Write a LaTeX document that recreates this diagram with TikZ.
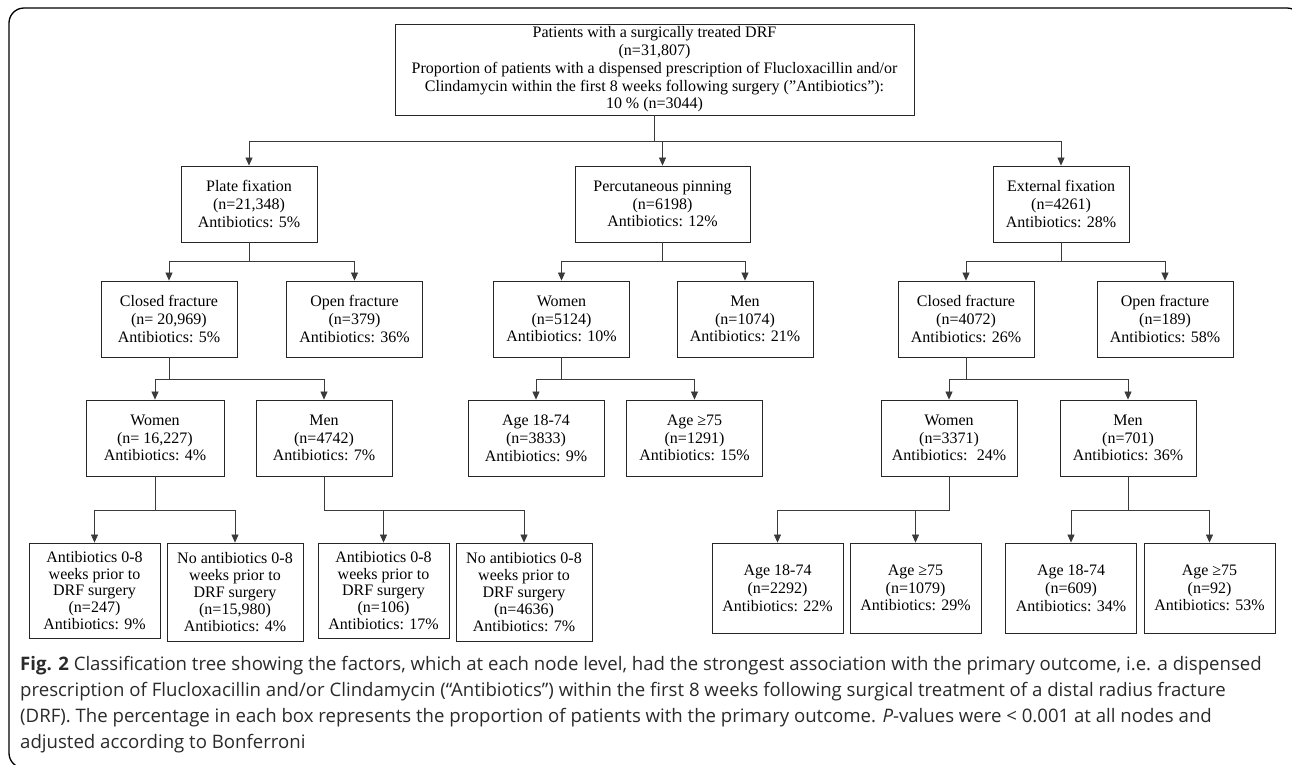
\documentclass[tikz,border=0pt]{standalone}
\usepackage{fontspec}
\setmainfont{Liberation Serif}
\newfontfamily\capfont{Open Sans}
\usetikzlibrary{arrows.meta}

\definecolor{linegray}{HTML}{3A3A3A}
\definecolor{capgray}{HTML}{2A2A2A}

\begin{document}
\begin{tikzpicture}[x=1pt, y=-1pt,
    tbox/.style={rectangle, draw=black!85, line width=0.85pt, align=center, inner sep=0pt,
        minimum width=136pt, minimum height=76pt, font=\fontsize{16}{17.8}\selectfont},
    leaf/.style={tbox, minimum width=131pt, minimum height=95pt, font=\fontsize{16}{16.8}\selectfont},
    rleaf/.style={leaf, minimum height=90pt, font=\fontsize{16}{17.8}\selectfont},
    link/.style={draw=linegray, line width=0.75pt, -{Triangle[length=8pt,width=7pt]}}]
    \useasboundingbox (0,0) rectangle (1292,764);

    % outer frame
    \begin{scope}
        \clip (0,0) rectangle (1292,764);
        \draw[line width=1.3pt, rounded corners=15pt] (9,8) rectangle (1302,768);
    \end{scope}

    % root
    \node[tbox, minimum width=519pt, minimum height=91pt] (root) at (654.5,69.5) {Patients with a surgically treated DRF\\(n=31,807)\\Proportion of patients with a dispensed prescription of Flucloxacillin and/or\\Clindamycin within the first 8 weeks following surgery (”Antibiotics”):\\10 \% (n=3044)};

    % level 1
    \node[tbox] (plate) at (249,204) {Plate fixation\\(n=21,348)\\Antibiotics: 5\%};
    \node[tbox, minimum width=175pt] (perc) at (662.5,204) {Percutaneous pinning\\(n=6198)\\Antibiotics: 12\%};
    \node[tbox] (ext) at (1061,204) {External fixation\\(n=4261)\\Antibiotics: 28\%};

    % level 2
    \node[tbox] (pclosed) at (169,319) {Closed fracture\\(n= 20,969)\\Antibiotics: 5\%};
    \node[tbox] (popen) at (354.5,319) {Open fracture\\(n=379)\\Antibiotics: 36\%};
    \node[tbox] (cwomen) at (561.5,319) {Women\\(n=5124)\\Antibiotics: 10\%};
    \node[tbox] (cmen) at (745,319) {Men\\(n=1074)\\Antibiotics: 21\%};
    \node[tbox] (eclosed) at (966,319) {Closed fracture\\(n=4072)\\Antibiotics: 26\%};
    \node[tbox] (eopen) at (1165,319) {Open fracture\\(n=189)\\Antibiotics: 58\%};

    % level 3
    \node[tbox, minimum width=138pt] (pwomen) at (155,438) {Women\\(n= 16,227)\\Antibiotics: 4\%};
    \node[tbox] (pmen) at (324,438) {Men\\(n=4742)\\Antibiotics: 7\%};
    \node[tbox] (cyoung) at (536,438) {Age 18-74\\(n=3833)\\Antibiotics: 9\%};
    \node[tbox] (cold) at (694.5,438) {Age ≥75\\(n=1291)\\Antibiotics: 15\%};
    \node[tbox] (ewomen) at (949,438) {Women\\(n=3371)\\Antibiotics:~ 24\%};
    \node[tbox] (emen) at (1128,438) {Men\\(n=701)\\Antibiotics: 36\%};

    % level 4
    \node[leaf] (pwab) at (94.5,590.5) {Antibiotics 0-8\\weeks prior to\\DRF surgery\\(n=247)\\Antibiotics: 9\%};
    \node[leaf, minimum width=136pt, minimum height=98pt] (pwno) at (235,592) {No antibiotics 0-8\\weeks prior to\\DRF surgery\\(n=15,980)\\Antibiotics: 4\%};
    \node[leaf] (pmab) at (383.5,590.5) {Antibiotics 0-8\\weeks prior to\\DRF surgery\\(n=106)\\Antibiotics: 17\%};
    \node[leaf, minimum width=136pt, minimum height=98pt] (pmno) at (524,592) {No antibiotics 0-8\\weeks prior to\\DRF surgery\\(n=4636)\\Antibiotics: 7\%};
    \node[rleaf] (ewyoung) at (777.5,588) {Age 18-74\\(n=2292)\\Antibiotics: 22\%};
    \node[rleaf] (ewold) at (915.5,588) {Age ≥75\\(n=1079)\\Antibiotics: 29\%};
    \node[rleaf] (emyoung) at (1071,588) {Age 18-74\\(n=609)\\Antibiotics: 34\%};
    \node[rleaf] (emold) at (1209.5,588) {Age ≥75\\(n=92)\\Antibiotics: 53\%};

    % connectors
    \foreach \kid in {plate, perc, ext}
        \draw[link] (root.south) -- ++(0,26) -| (\kid.north);
    \draw[link] (plate.south) -- ++(0,19) -| (pclosed.north);
    \draw[link] (plate.south) -- ++(0,19) -| (popen.north);
    \draw[link] (perc.south) -- ++(0,19) -| (cwomen.north);
    \draw[link] (perc.south) -- ++(0,19) -| (cmen.north);
    \draw[link] (ext.south) -- ++(0,19) -| (eclosed.north);
    \draw[link] (ext.south) -- ++(0,19) -| (eopen.north);
    \draw[link] (pclosed.south) -- ++(0,22) -| (pwomen.north);
    \draw[link] (pclosed.south) -- ++(0,22) -| (pmen.north);
    \draw[link] (cwomen.south) -- ++(0,22) -| (cyoung.north);
    \draw[link] (cwomen.south) -- ++(0,22) -| (cold.north);
    \draw[link] (eclosed.south) -- ++(0,22) -| (ewomen.north);
    \draw[link] (eclosed.south) -- ++(0,22) -| (emen.north);
    \draw[link] (pwomen.south) -- ++(0,34) -| (pwab.north);
    \draw[link] (pwomen.south) -- ++(0,34) -| (pwno.north);
    \draw[link] (pmen.south) -- ++(0,34) -| (pmab.north);
    \draw[link] (pmen.south) -- ++(0,34) -| (pmno.north);
    \draw[link] (ewomen.south) -- ++(0,34) -| (ewyoung.north);
    \draw[link] (ewomen.south) -- ++(0,34) -| (ewold.north);
    \draw[link] (emen.south) -- ++(0,34) -| (emyoung.north);
    \draw[link] (emen.south) -- ++(0,34) -| (emold.north);

    % caption
    \node[anchor=north west, align=left, inner sep=0pt, text=capgray, font=\capfont\fontsize{18.6}{26}\selectfont] (cap) at (20,656) {{\bfseries Fig. 2} Classification tree showing the factors, which at each node level, had the strongest association with the primary outcome, i.e. a dispensed\\prescription of Flucloxacillin and/or Clindamycin (“Antibiotics”) within the first 8 weeks following surgical treatment of a distal radius fracture\\(DRF). The percentage in each box represents the proportion of patients with the primary outcome. {\itshape P}-values were < 0.001 at all nodes and\\adjusted according to Bonferroni};
\end{tikzpicture}
\end{document}
